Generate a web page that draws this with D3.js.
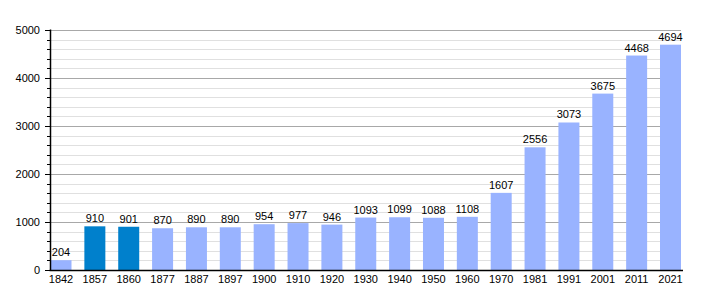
<!DOCTYPE html>
<html><head><meta charset="utf-8">
<script src="https://cdn.jsdelivr.net/npm/d3@7"></script>
<style>body{margin:0;background:#fff}svg{display:block}text{font-family:"Liberation Sans",Arial,sans-serif;font-size:11px;fill:#000}</style>
</head><body><svg id="c" width="710" height="300"></svg>
<script>
const years = ["1842","1857","1860","1877","1887","1897","1900","1910","1920","1930","1940","1950","1960","1970","1981","1991","2001","2011","2021"];
const population = [204,910,901,870,890,890,954,977,946,1093,1099,1088,1108,1607,2556,3073,3675,4468,4694];
const highlighted = ["1857","1860"];
const yTicks = [0,1000,2000,3000,4000,5000];

const svg = d3.select("#c");
const L = 50.5, R = 681, T = 30, B = 270;
const x = d3.scaleBand().domain(years).range([L, R]).paddingInner(0.38).paddingOuter(0);
const y = d3.scaleLinear().domain([0,5000]).range([B, T]);

const minor = d3.range(0, 5001, 200).filter(v => v % 1000 !== 0);
svg.append("g").selectAll("line").data(minor).join("line")
  .attr("x1", L).attr("x2", R).attr("y1", d => Math.round(y(d))+0.5).attr("y2", d => Math.round(y(d))+0.5)
  .attr("stroke", "#e0e0e0").attr("stroke-width", 1);
svg.append("g").selectAll("line").data(yTicks.slice(1)).join("line")
  .attr("x1", L).attr("x2", R).attr("y1", d => Math.round(y(d))+0.5).attr("y2", d => Math.round(y(d))+0.5)
  .attr("stroke", "#a8a8a8").attr("stroke-width", 1);

svg.append("g").selectAll("rect").data(years).join("rect")
  .attr("x", d => x(d)).attr("width", x.bandwidth())
  .attr("y", (d,i) => y(population[i])).attr("height", (d,i) => B - y(population[i]))
  .attr("fill", d => highlighted.includes(d) ? "#0080cc" : "#99b3ff");

svg.append("g").selectAll("text").data(years).join("text")
  .attr("x", d => x(d) + x.bandwidth()/2).attr("y", (d,i) => y(population[i]) - 4)
  .attr("text-anchor", "middle").text((d,i) => population[i]);

// y axis
const ya = svg.append("g").attr("transform", `translate(${L-0.5},0)`)
  .call(d3.axisLeft(y).tickValues(yTicks).tickSize(5).tickPadding(5).tickFormat(d3.format("d")));
ya.select(".domain").remove();
ya.selectAll("line").attr("stroke", "#000");
ya.selectAll("text").style("font-size", "11px").attr("font-family", null);
svg.append("g").selectAll("line").data(minor).join("line")
  .attr("x1", L-3.5).attr("x2", L).attr("y1", d => Math.round(y(d))+0.5).attr("y2", d => Math.round(y(d))+0.5)
  .attr("stroke", "#000");
svg.append("line").attr("x1", L-0.5+0.5).attr("x2", L).attr("y1", T).attr("y2", B+1).attr("stroke","#000");
svg.append("line").attr("x1", L).attr("x2", L).attr("y1", T-0.5).attr("y2", B+1).attr("stroke", "#000").attr("stroke-width", 1.5);

// x axis
const xa = svg.append("g").attr("transform", `translate(0,${B})`)
  .call(d3.axisBottom(x).tickSize(0).tickPadding(5));
xa.select(".domain").remove();
xa.selectAll("text").style("font-size", "11px").attr("font-family", null).attr("dy", "0.71em");
svg.append("line").attr("x1", L-1).attr("x2", R+2).attr("y1", B+0.5).attr("y2", B+0.5).attr("stroke", "#000").attr("stroke-width", 1.5);
</script></body></html>
